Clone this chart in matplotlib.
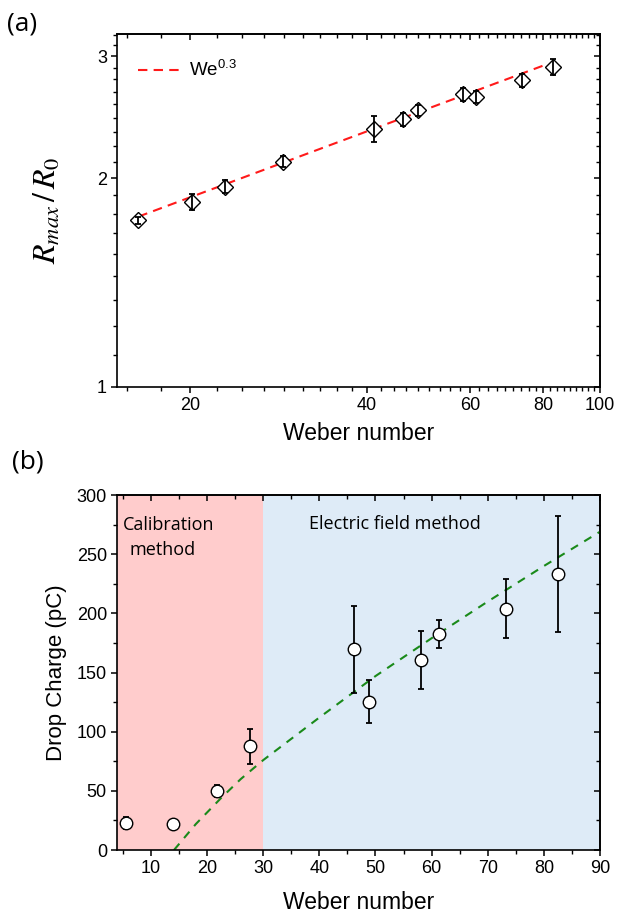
import matplotlib
matplotlib.use("Agg")
import matplotlib.pyplot as plt
from matplotlib.ticker import NullFormatter

plt.rcParams["font.family"] = ["Liberation Sans", "DejaVu Sans"]
plt.rcParams["mathtext.fontset"] = "stix"

# (a) spreading ratio vs Weber number
we_a = [16.3, 20.1, 22.9, 28.8, 41.2, 46.1, 48.9, 58.3, 61.5, 73.6, 83.1]
r_a = [1.738, 1.849, 1.945, 2.113, 2.355, 2.432, 2.508, 2.642, 2.621, 2.771, 2.895]
r_err = [0.02, 0.05, 0.04, 0.04, 0.10, 0.055, 0.045, 0.055, 0.05, 0.06, 0.075]
# We^0.3 guide line, end points
fit_we_a = [16.3, 81.1]
fit_r_a = [1.76, 2.92]

# (b) drop charge vs Weber number
we_b = [5.6, 13.9, 21.8, 27.6, 46.2, 48.9, 58.1, 61.4, 73.3, 82.5]
q_b = [22.5, 22, 50, 87.5, 169.5, 125.5, 161, 182.5, 204, 233]
q_err = [5, 3, 5, 14.5, 37, 18.5, 24.5, 12, 25, 49]
# green dashed trend, points along the curve
fit_we_b = [14.1, 18, 22.5, 26, 30, 35, 40, 50, 60, 70, 80, 90]
fit_q_b = [0, 22, 44, 60, 76, 94, 112, 147, 179, 210, 240, 269]

calib_range = (4, 30)
field_range = (30, 90)


def style_ticks(ax):
    """Origin-like ticks: outward on left/bottom, inward on top/right."""
    ax.tick_params(which="major", direction="out", length=4.5, width=1.1,
                   labelsize=13, pad=3)
    ax.tick_params(which="minor", direction="out", length=2.8, width=1.0)
    for s in ax.spines.values():
        s.set_linewidth(1.2)


def mirror_ticks(ax, xmajor, xminor, ymajor, yminor):
    """Adds inward, unlabelled ticks on the top and right sides."""
    top = ax.secondary_xaxis("top")
    top.set_xticks(xmajor)
    top.set_xticks(xminor, minor=True)
    right = ax.secondary_yaxis("right")
    right.set_yticks(ymajor)
    right.set_yticks(yminor, minor=True)
    for sec, axis in ((top, top.xaxis), (right, right.yaxis)):
        axis.set_major_formatter(NullFormatter())
        axis.set_minor_formatter(NullFormatter())
        sec.tick_params(which="major", direction="in", length=4.5, width=1.1)
        sec.tick_params(which="minor", direction="in", length=2.8, width=1.0)
        for s in sec.spines.values():
            s.set_linewidth(1.2)


fig = plt.figure(figsize=(6.18, 9.15), dpi=100)

# ---------------- (a) ----------------
ax1 = fig.add_axes([0.1898, 0.5774, 0.7811, 0.3855])
ax1.set_xscale("log")
ax1.set_yscale("log")

ax1.plot(fit_we_a, fit_r_a, color="#ff1a1a", lw=1.5, dashes=(4.5, 3),
         label=r"We$^{\mathregular{0.3}}$", zorder=2)
ax1.plot(we_a, r_a, "D", ms=8, mfc="white", mec="black", mew=1.0, zorder=3)
ax1.errorbar(we_a, r_a, yerr=r_err, fmt="none", ecolor="black", elinewidth=1.3,
             capsize=2.5, capthick=1.3, zorder=4)

ax1.set_xlim(15, 100)
ax1.set_ylim(1, 3.23)

xmaj_a = [20, 40, 60, 80, 100]
xmin_a = [20 + k * 20 / 9 for k in range(-2, 36) if k % 9 != 0]
ymaj_a = [1, 2, 3]
ymin_a = [1 + k / 9 for k in range(1, 21) if k % 9 != 0]

ax1.set_xticks(xmaj_a, labels=[str(v) for v in xmaj_a])
ax1.set_xticks(xmin_a, minor=True)
ax1.xaxis.set_minor_formatter(NullFormatter())
ax1.set_yticks(ymaj_a, labels=[str(v) for v in ymaj_a])
ax1.set_yticks(ymin_a, minor=True)
ax1.yaxis.set_minor_formatter(NullFormatter())
style_ticks(ax1)
mirror_ticks(ax1, xmaj_a, xmin_a, ymaj_a, ymin_a)

ax1.set_xlabel("Weber number", fontsize=16.5)
ax1.set_ylabel(r"$R_{max}\,/\,R_0$", fontsize=23)
ax1.xaxis.set_label_coords(0.5, -0.100)
ax1.yaxis.set_label_coords(-0.112, 0.5)

ax1.legend(loc="center left", bbox_to_anchor=(0.043, 0.898), frameon=False,
           fontsize=13.5, borderpad=0, borderaxespad=0, handlelength=2.4,
           handletextpad=0.3)

# ---------------- (b) ----------------
ax2 = fig.add_axes([0.1898, 0.0710, 0.7811, 0.3880])
ax2.axvspan(*calib_range, color="#ffcccc", lw=0, zorder=0)
ax2.axvspan(*field_range, color="#deebf7", lw=0, zorder=0)

ax2.plot(fit_we_b, fit_q_b, color="#1a8a1a", lw=1.5, dashes=(4, 3.5), zorder=2)
ax2.errorbar(we_b, q_b, yerr=q_err, fmt="none", ecolor="black", elinewidth=1.3,
             capsize=2.5, capthick=1.3, zorder=3)
ax2.plot(we_b, q_b, "o", ms=9, mfc="white", mec="black", mew=1.0, zorder=4)

ax2.set_xlim(4, 90)
ax2.set_ylim(0, 300)

xmaj_b = list(range(10, 91, 10))
xmin_b = list(range(5, 90, 10))
ymaj_b = list(range(0, 301, 50))
ymin_b = list(range(25, 300, 50))
ax2.set_xticks(xmaj_b)
ax2.set_xticks(xmin_b, minor=True)
ax2.set_yticks(ymaj_b)
ax2.set_yticks(ymin_b, minor=True)
style_ticks(ax2)
mirror_ticks(ax2, xmaj_b, xmin_b, ymaj_b, ymin_b)

ax2.text(5.0, 270.4, "Calibration", family="Open Sans", fontsize=13, va="baseline")
ax2.text(6.1, 249.3, "method", family="Open Sans", fontsize=13, va="baseline")
ax2.text(38.2, 271, "Electric field method", family="Open Sans", fontsize=13,
         va="baseline")

ax2.set_xlabel("Weber number", fontsize=16.5)
ax2.set_ylabel("Drop Charge (pC)", fontsize=16)
ax2.xaxis.set_label_coords(0.5, -0.114)
ax2.yaxis.set_label_coords(-0.104, 0.5)

fig.text(0.011, 0.974, "(a)", family="Open Sans", fontsize=19, va="center")
fig.text(0.019, 0.495, "(b)", family="Open Sans", fontsize=19, va="center")

fig.savefig("out.png", dpi=100)
